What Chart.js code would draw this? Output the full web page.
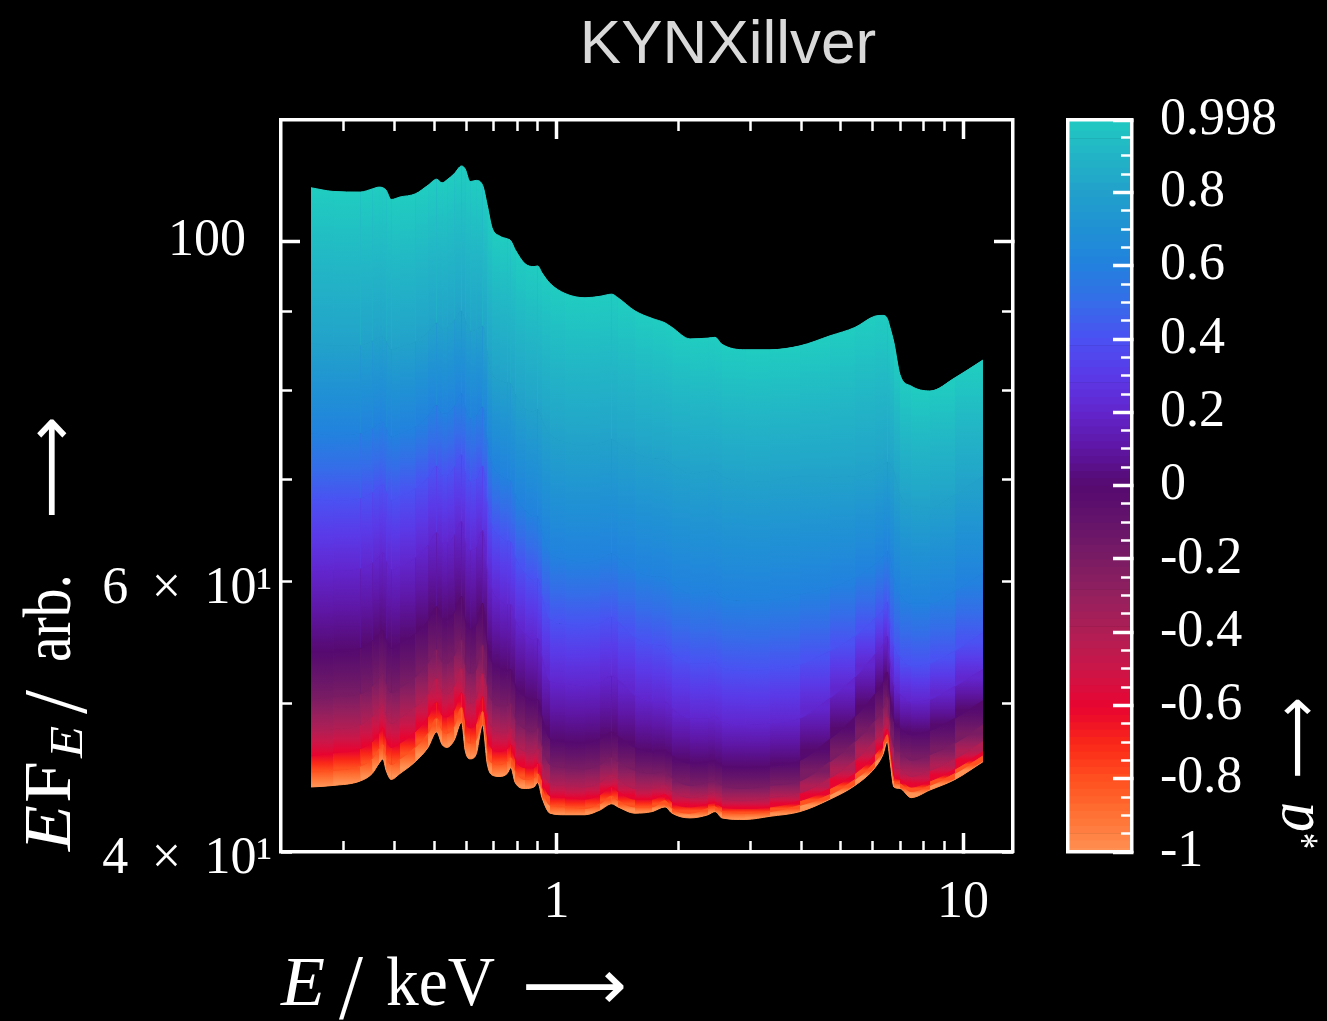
<!DOCTYPE html>
<html>
<head>
<meta charset="utf-8">
<title>KYNXillver</title>
<script src="https://cdn.jsdelivr.net/npm/chart.js@4.4.1/dist/chart.umd.min.js"></script>
<style>
  html, body { margin: 0; padding: 0; background: #000; }
  #wrap { position: relative; width: 1327px; height: 1021px; }
  #wrap canvas { position: absolute; left: 0; top: 0; }
</style>
</head>
<body>
<div id="wrap">
  <canvas id="spectra" width="1327" height="1021"></canvas>
  <canvas id="colorbar" width="1327" height="1021"></canvas>
</div>
<script>
// photon energy grid, keV
const energyKeV = [
  0.249, 0.282, 0.329, 0.352, 0.366, 0.374, 0.381, 0.392, 0.412, 0.449,
  0.483, 0.507, 0.523, 0.538, 0.560, 0.584, 0.596, 0.613, 0.634, 0.658,
  0.675, 0.694, 0.726, 0.756, 0.772, 0.791, 0.837, 0.880, 0.899, 0.921,
  0.964, 1.049, 1.175, 1.279, 1.367, 1.416, 1.560, 1.718, 1.849, 1.924,
  2.130, 2.359, 2.454, 2.553, 2.909, 3.350, 3.972, 4.708, 5.421, 6.072,
  6.354, 6.510, 6.611, 6.761, 6.995, 7.446, 8.290, 9.552, 11.19
];

// spin of each spectrum
const spinValues = [-1, -0.8, -0.6, -0.4, -0.2, 0, 0.2, 0.4, 0.6, 0.8, 0.998];

// E F_E (arb.) per spin
const fluxSpinNeg1 = [
  44.1, 44.2, 44.5, 45.0, 45.7, 46.0, 45.2, 44.6, 45.0, 45.8,
  46.8, 47.9, 47.0, 46.8, 47.3, 48.6, 46.6, 46.0, 46.3, 48.4,
  45.7, 44.9, 44.8, 45.0, 45.4, 44.4, 44.0, 44.1, 44.4, 43.4,
  42.4, 42.3, 42.3, 42.6, 43.0, 42.8, 42.4, 42.5, 42.8, 42.4,
  42.1, 42.3, 42.5, 42.1, 42.0, 42.2, 42.5, 43.3, 44.2, 45.4,
  46.3, 47.2, 45.9, 44.1, 44.0, 43.4, 43.9, 44.6, 45.8
];
const fluxSpinNeg08 = [
  45.1, 45.2, 45.5, 46.0, 46.7, 47.0, 46.2, 45.6, 46.0, 46.8,
  47.8, 48.9, 48.0, 47.8, 48.3, 49.7, 47.6, 47.1, 47.3, 49.4,
  46.6, 45.7, 45.6, 45.8, 46.1, 45.2, 44.6, 44.7, 45.0, 44.0,
  42.9, 42.8, 42.7, 43.0, 43.5, 43.2, 42.8, 42.8, 43.2, 42.7,
  42.4, 42.7, 42.8, 42.5, 42.4, 42.5, 42.9, 43.6, 44.6, 45.8,
  46.7, 47.7, 46.3, 44.5, 44.3, 43.8, 44.2, 45.0, 46.2
];
const fluxSpinNeg06 = [
  46.2, 46.4, 46.7, 47.2, 47.8, 48.2, 47.4, 46.8, 47.1, 47.9,
  49.0, 50.1, 49.1, 49.0, 49.5, 50.8, 48.8, 48.2, 48.5, 50.5,
  47.6, 46.7, 46.5, 46.7, 47.0, 46.0, 45.4, 45.4, 45.7, 44.6,
  43.5, 43.4, 43.3, 43.6, 44.1, 43.8, 43.3, 43.3, 43.6, 43.1,
  42.8, 43.0, 43.1, 42.8, 42.7, 42.8, 43.2, 44.0, 45.0, 46.3,
  47.2, 48.1, 46.6, 44.8, 44.6, 44.1, 44.5, 45.3, 46.5
];
const fluxSpinNeg04 = [
  48.0, 48.1, 48.4, 49.0, 49.6, 49.9, 49.1, 48.5, 48.9, 49.7,
  50.7, 51.9, 50.9, 50.7, 51.3, 52.7, 50.6, 50.0, 50.3, 52.3,
  49.3, 48.2, 47.9, 47.9, 48.2, 47.2, 46.5, 46.4, 46.7, 45.6,
  44.3, 44.2, 44.1, 44.4, 44.9, 44.6, 44.0, 44.0, 44.2, 43.8,
  43.4, 43.6, 43.7, 43.4, 43.2, 43.4, 43.7, 44.7, 45.9, 47.3,
  48.1, 49.0, 47.4, 45.6, 45.3, 44.8, 45.2, 46.0, 47.2
];
const fluxSpinNeg02 = [
  50.3, 50.5, 50.7, 51.3, 51.9, 52.3, 51.5, 50.8, 51.2, 52.0,
  53.1, 54.2, 53.2, 53.1, 53.7, 55.0, 53.0, 52.3, 52.6, 54.6,
  51.4, 50.2, 49.8, 49.8, 50.0, 48.9, 48.1, 47.9, 48.2, 46.9,
  45.6, 45.4, 45.3, 45.6, 46.1, 45.8, 45.2, 45.0, 45.1, 44.7,
  44.2, 44.4, 44.5, 44.2, 44.0, 44.2, 44.5, 45.8, 47.2, 48.7,
  49.6, 50.5, 48.7, 46.8, 46.5, 45.9, 46.3, 47.1, 48.4
];
const fluxSpin0 = [
  54.0, 54.0, 54.3, 54.9, 55.5, 55.8, 55.0, 54.3, 54.7, 55.5,
  56.6, 57.8, 56.8, 56.7, 57.3, 58.7, 56.7, 55.9, 56.2, 58.1,
  54.8, 53.2, 52.7, 52.5, 52.6, 51.4, 50.5, 50.2, 50.3, 49.0,
  47.4, 47.2, 47.1, 47.4, 47.9, 47.6, 46.8, 46.5, 46.6, 46.2,
  45.7, 45.8, 45.9, 45.5, 45.4, 45.5, 45.9, 47.4, 49.0, 50.7,
  51.6, 52.4, 50.6, 48.7, 48.2, 47.7, 48.0, 48.9, 50.2
];
const fluxSpin02 = [
  60.9, 61.0, 61.2, 61.7, 62.3, 62.7, 61.9, 61.1, 61.4, 62.2,
  63.4, 64.6, 63.6, 63.6, 64.3, 65.7, 63.8, 62.9, 63.2, 64.8,
  61.2, 59.3, 58.4, 58.0, 58.0, 56.7, 55.5, 55.0, 55.1, 53.6,
  51.7, 51.5, 51.3, 51.6, 52.1, 51.8, 50.6, 50.1, 50.1, 49.6,
  48.9, 48.9, 49.0, 48.6, 48.4, 48.5, 48.9, 50.4, 52.0, 53.8,
  54.6, 55.3, 53.3, 51.4, 50.7, 50.1, 50.3, 51.3, 52.6
];
const fluxSpin04 = [
  67.9, 67.8, 68.0, 68.6, 69.2, 69.4, 68.7, 67.8, 68.2, 69.0,
  70.2, 71.4, 70.4, 70.4, 71.2, 72.6, 70.8, 69.8, 70.0, 71.4,
  67.7, 65.3, 64.3, 63.8, 63.7, 62.3, 60.8, 60.2, 60.3, 58.7,
  56.7, 56.3, 56.1, 56.4, 56.9, 56.5, 55.2, 54.6, 54.5, 53.9,
  53.1, 53.1, 53.2, 52.7, 52.5, 52.6, 53.0, 54.1, 55.3, 56.8,
  57.5, 58.2, 56.5, 54.6, 53.6, 52.9, 53.1, 54.1, 55.6
];
const fluxSpin06 = [
  75.0, 74.8, 75.0, 75.5, 76.1, 76.3, 75.6, 74.6, 75.0, 75.7,
  77.0, 78.2, 77.2, 77.3, 78.1, 79.6, 78.0, 76.7, 77.0, 78.0,
  74.3, 71.7, 70.5, 70.0, 69.8, 68.4, 66.8, 66.2, 66.2, 64.6,
  62.6, 62.1, 61.8, 62.1, 62.6, 62.2, 61.0, 60.5, 60.4, 59.8,
  59.0, 59.1, 59.2, 58.6, 58.3, 58.4, 58.9, 59.5, 60.4, 61.6,
  62.3, 62.8, 62.3, 60.3, 58.9, 58.1, 58.1, 59.2, 60.8
];
const fluxSpin08 = [
  85.8, 85.5, 85.6, 86.1, 86.6, 86.7, 86.1, 85.0, 85.4, 86.0,
  87.3, 88.5, 87.7, 87.9, 88.8, 90.1, 88.9, 87.4, 87.6, 88.1,
  84.8, 82.1, 81.2, 80.9, 80.8, 79.5, 77.8, 77.5, 77.7, 76.5,
  74.9, 74.0, 73.6, 73.9, 74.3, 73.9, 72.8, 72.2, 72.1, 71.6,
  70.6, 70.8, 70.9, 70.3, 69.7, 69.8, 70.3, 70.2, 70.3, 71.0,
  71.5, 71.8, 71.6, 70.8, 68.4, 67.3, 67.1, 68.4, 70.3
];
const fluxSpin0998 = [
  108.4, 107.8, 107.7, 108.2, 108.5, 108.4, 108.0, 106.5, 106.9, 107.4,
  108.8, 109.8, 109.2, 109.7, 110.7, 112.0, 111.5, 109.4, 109.6, 108.8,
  105.7, 102.1, 100.8, 100.4, 100.1, 98.8, 96.7, 96.3, 96.4, 95.4,
  93.9, 92.5, 91.9, 92.1, 92.4, 91.9, 90.1, 89.1, 88.5, 87.9,
  86.4, 86.5, 86.6, 85.7, 85.0, 85.0, 85.5, 86.8, 87.9, 89.4,
  89.5, 89.1, 87.9, 85.9, 81.9, 80.5, 79.9, 81.5, 83.7
];

const spinCurves = [
  fluxSpinNeg1, fluxSpinNeg08, fluxSpinNeg06, fluxSpinNeg04, fluxSpinNeg02,
  fluxSpin0, fluxSpin02, fluxSpin04, fluxSpin06, fluxSpin08, fluxSpin0998
];

// axis ticks
const xMajorTicks = [1, 10];
const xMinorTicks = [0.3, 0.4, 0.5, 0.6, 0.7, 0.8, 0.9, 2, 3, 4, 5, 6, 7, 8, 9];
const xTickLabels = { 1: '1', 10: '10' };
const yMajorTicks = [100];
const yMinorTicks = [40, 50, 60, 70, 80, 90];
const yLabelTicks = [40, 60, 100];
const yTickLabels = {
  40: ['', '4\u2009 \u00D7 \u200910¹'],
  60: ['', '6\u2009 \u00D7 \u200910¹'],
  100: '100  '
};
const cbMajorTicks = [-1, -0.8, -0.6, -0.4, -0.2, 0, 0.2, 0.4, 0.6, 0.8, 0.998];
const cbTickLabels = {
  '-1': '-1', '-0.8': '-0.8', '-0.6': '-0.6', '-0.4': '-0.4', '-0.2': '-0.2',
  '0': '0', '0.2': '0.2', '0.4': '0.4', '0.6': '0.6', '0.8': '0.8', '0.998': '0.998'
};
const cbMinorTicks = [
  -0.95, -0.9, -0.85, -0.75, -0.7, -0.65, -0.55, -0.5, -0.45, -0.35, -0.3, -0.25,
  -0.15, -0.1, -0.05, 0.05, 0.1, 0.15, 0.25, 0.3, 0.35, 0.45, 0.5, 0.55,
  0.65, 0.7, 0.75, 0.85, 0.9, 0.95
];

const X_MIN = 0.21, X_MAX = 13.27, Y_MIN = 40, Y_MAX = 120;
const WHITE = '#ffffff';
const SERIF = '"Liberation Serif", "DejaVu Serif", serif';
const tickFont = { family: SERIF, size: 52 };

// colour map for the spin parameter
const cmapStops = [
  [-1.0, [255, 147, 86]], [-0.9, [255, 116, 54]], [-0.8, [255, 82, 32]],
  [-0.7, [250, 40, 24]], [-0.6, [232, 4, 48]], [-0.5, [204, 22, 72]],
  [-0.4, [176, 30, 84]], [-0.3, [148, 32, 94]], [-0.2, [122, 28, 100]],
  [-0.1, [100, 20, 106]], [0.0, [86, 10, 112]], [0.1, [94, 22, 164]],
  [0.2, [98, 38, 206]], [0.3, [90, 58, 232]], [0.4, [74, 82, 242]],
  [0.5, [52, 110, 232]], [0.6, [34, 130, 222]], [0.7, [32, 146, 212]],
  [0.8, [34, 162, 202]], [0.9, [34, 182, 198]], [1.0, [32, 204, 192]]
];

function spinColor(s) {
  s = Math.max(-1, Math.min(1, s));
  let k = 0;
  while (k < cmapStops.length - 2 && s > cmapStops[k + 1][0]) k++;
  const [s0, c0] = cmapStops[k];
  const [s1, c1] = cmapStops[k + 1];
  const t = (s - s0) / (s1 - s0);
  const c = c0.map((v, j) => Math.round(v + (c1[j] - v) * t));
  return `rgb(${c[0]},${c[1]},${c[2]})`;
}

function toPoints(flux) {
  return energyKeV.map((e, k) => ({ x: e, y: flux[k] }));
}

// vertical gradient for the band between spectrum i-1 and spectrum i
function bandFill(sc, i) {
  const s0 = spinValues[i - 1], s1 = spinValues[i];
  const chart = sc.chart;
  const lower = chart.getDatasetMeta(i - 1).data;
  const q0 = lower[sc.p0DataIndex], q1 = lower[sc.p1DataIndex];
  if (!q0 || !q1 || !sc.p0 || !sc.p1) return spinColor((s0 + s1) / 2);
  const yBot = (q0.y + q1.y) / 2;
  const yTop = (sc.p0.y + sc.p1.y) / 2;
  if (!(yBot - yTop > 0.5)) return spinColor((s0 + s1) / 2);
  const g = chart.ctx.createLinearGradient(0, yBot, 0, yTop);
  for (let k = 0; k <= 4; k++) {
    g.addColorStop(k / 4, spinColor(s0 + (s1 - s0) * k / 4));
  }
  return g;
}

const curveDatasets = spinValues.map((s, i) => ({
  label: 'a* = ' + s,
  data: toPoints(spinCurves[i]),
  xAxisID: 'x',
  yAxisID: 'y',
  borderColor: spinColor(s),
  borderWidth: 1,
  pointRadius: 0,
  cubicInterpolationMode: 'monotone',
  fill: i === 0 ? false : '-1',
  backgroundColor: i === 0 ? 'transparent' : spinColor((s + spinValues[i - 1]) / 2),
  segment: i === 0 ? {} : { backgroundColor: sc => bandFill(sc, i) }
}));

// flat fills underneath the gradient bands, so the joins between segments do not show
const UNDER = curveDatasets.length;
const underlayDatasets = spinValues.map((s, i) => ({
  label: 'band ' + s,
  data: toPoints(spinCurves[i]),
  xAxisID: 'x',
  yAxisID: 'y',
  borderWidth: 0,
  pointRadius: 0,
  cubicInterpolationMode: 'monotone',
  fill: i === 0 ? false : UNDER + i - 1,
  backgroundColor: i === 0 ? 'transparent' : spinColor((s + spinValues[i - 1]) / 2)
}));

function tickAxis(o) {
  return {
    type: o.type,
    axis: o.axis,
    position: o.position,
    min: o.min,
    max: o.max,
    bounds: 'data',
    offset: false,
    weight: 0,
    afterBuildTicks: scale => { scale.ticks = o.ticks.map(v => ({ value: v })); },
    afterFit: scale => { if (o.axis === 'x') scale.height = 0; else scale.width = 0; },
    grid: {
      display: true, drawOnChartArea: false, drawTicks: true, offset: false, z: 1,
      tickLength: o.tickLength, tickWidth: o.tickWidth, tickColor: WHITE, color: WHITE
    },
    border: { display: !!o.border, color: WHITE, width: 3.5, z: 1 },
    ticks: { display: true, autoSkip: false, callback: () => '' }
  };
}

// scale that carries the tick labels, sized to hold them
function labelAxis(o) {
  return {
    type: o.type,
    axis: o.axis,
    position: o.position,
    min: o.min,
    max: o.max,
    bounds: 'data',
    offset: false,
    weight: 1,
    afterBuildTicks: scale => { scale.ticks = o.ticks.map(v => ({ value: v })); },
    afterFit: scale => { if (o.axis === 'x') scale.height = o.size; else scale.width = o.size; },
    grid: {
      display: o.tickLength !== undefined, drawOnChartArea: false, offset: false, z: 1,
      drawTicks: o.tickLength !== undefined, tickLength: o.tickLength || 0,
      tickWidth: o.tickWidth || 1, tickColor: WHITE, color: WHITE
    },
    border: { display: !!o.border, color: WHITE, width: 3.5, z: 1 },
    ticks: {
      display: true, autoSkip: false, maxRotation: 0, minRotation: 0, z: 1,
      color: WHITE, font: o.font || tickFont, padding: o.padding,
      callback: v => (o.labels[v] !== undefined ? o.labels[v] : '')
    }
  };
}

function frameAxis(axis, position, min, max) {
  return {
    type: 'linear', axis, position, min, max, bounds: 'data', offset: false,
    afterFit: scale => { if (axis === 'x') scale.height = 0; else scale.width = 0; },
    grid: { display: false, drawTicks: false, offset: false },
    ticks: { display: false },
    border: { display: true, color: WHITE, width: 3.5, z: 1 }
  };
}

function putText(ctx, text, font, x, y, width) {
  ctx.save();
  ctx.font = font;
  const w = ctx.measureText(text).width;
  ctx.translate(x, y);
  if (width) ctx.scale(width / w, 1);
  ctx.fillText(text, 0, 0);
  ctx.restore();
}

function putTextUp(ctx, text, font, baseX, startY, length) {
  ctx.save();
  ctx.translate(baseX, startY);
  ctx.rotate(-Math.PI / 2);
  putText(ctx, text, font, 0, 0, length);
  ctx.restore();
}

const figureText = {
  id: 'figureText',
  afterDraw(chart) {
    const ctx = chart.ctx;
    ctx.save();
    ctx.textBaseline = 'alphabetic';

    ctx.fillStyle = '#d9d9d9';
    ctx.font = '62px "Liberation Sans", Arial, sans-serif';
    ctx.textAlign = 'center';
    ctx.fillText('KYNXillver', 728, 63);
    ctx.textAlign = 'left';

    ctx.fillStyle = WHITE;
    // E / keV -->
    putText(ctx, 'E', 'italic 70px ' + SERIF, 281, 1005, 44);
    putText(ctx, '/', '94px ' + SERIF, 339, 1018, 24);
    putText(ctx, 'keV', '70px ' + SERIF, 386, 1005, 109);
    putText(ctx, '\u27F6', '70px "DejaVu Sans"', 522, 1009, 105);

    // E F_E / arb. -->
    putTextUp(ctx, 'E', 'italic 68px ' + SERIF, 70, 851, 46);
    putTextUp(ctx, 'F', '68px ' + SERIF, 70, 803, 42);
    putTextUp(ctx, 'E', 'italic 46px ' + SERIF, 82, 758, 32);
    putTextUp(ctx, '/', '92px ' + SERIF, 86, 714, 24);
    putTextUp(ctx, 'arb.', '68px ' + SERIF, 70, 662, 88);
    putTextUp(ctx, '\u27F6', '68px "DejaVu Sans"', 73, 519, 103);

    // spin label
    putTextUp(ctx, '\u27F6', '62px "DejaVu Sans"', 1317, 779, 82);
    putTextUp(ctx, 'a', 'italic 66px ' + SERIF, 1313, 832, 30);
    putTextUp(ctx, '*', '44px ' + SERIF, 1330, 849, 16);
    ctx.restore();
  }
};

const yLabelFont = sc => ({
  family: SERIF, size: 52,
  lineHeight: sc.tick && sc.tick.value === 100 ? 1.2 : 0.27
});

new Chart(document.getElementById('spectra'), {
  type: 'line',
  data: { datasets: curveDatasets.concat(underlayDatasets) },
  options: {
    responsive: false,
    animation: false,
    events: [],
    layout: { padding: { left: 0, right: 314, top: 120, bottom: 0 } },
    plugins: { legend: { display: false }, tooltip: { enabled: false }, title: { display: false } },
    scales: {
      x: tickAxis({ type: 'logarithmic', axis: 'x', position: 'bottom', min: X_MIN, max: X_MAX,
        ticks: xMajorTicks, tickLength: -19, tickWidth: 3.5, border: true }),
      xMinor: tickAxis({ type: 'logarithmic', axis: 'x', position: 'bottom', min: X_MIN, max: X_MAX,
        ticks: xMinorTicks, tickLength: -11, tickWidth: 2.5 }),
      xLabels: labelAxis({ type: 'logarithmic', axis: 'x', position: 'bottom', min: X_MIN, max: X_MAX,
        ticks: xMajorTicks, labels: xTickLabels, size: 169, padding: 20 }),
      xTop: tickAxis({ type: 'logarithmic', axis: 'x', position: 'top', min: X_MIN, max: X_MAX,
        ticks: xMajorTicks, tickLength: -19, tickWidth: 3.5, border: true }),
      xTopMinor: tickAxis({ type: 'logarithmic', axis: 'x', position: 'top', min: X_MIN, max: X_MAX,
        ticks: xMinorTicks, tickLength: -11, tickWidth: 2.5 }),
      y: tickAxis({ type: 'logarithmic', axis: 'y', position: 'left', min: Y_MIN, max: Y_MAX,
        ticks: yMajorTicks, tickLength: -19, tickWidth: 3.5, border: true }),
      yMinor: tickAxis({ type: 'logarithmic', axis: 'y', position: 'left', min: Y_MIN, max: Y_MAX,
        ticks: yMinorTicks, tickLength: -11, tickWidth: 2.5 }),
      yLabels: labelAxis({ type: 'logarithmic', axis: 'y', position: 'left', min: Y_MIN, max: Y_MAX,
        ticks: yLabelTicks, labels: yTickLabels, size: 281, padding: 9, font: yLabelFont }),
      yRight: tickAxis({ type: 'logarithmic', axis: 'y', position: 'right', min: Y_MIN, max: Y_MAX,
        ticks: yMajorTicks, tickLength: -19, tickWidth: 3.5, border: true }),
      yRightMinor: tickAxis({ type: 'logarithmic', axis: 'y', position: 'right', min: Y_MIN, max: Y_MAX,
        ticks: yMinorTicks, tickLength: -11, tickWidth: 2.5 })
    }
  },
  plugins: [figureText]
});

// colour bar: one thin horizontal bar per spin step
const cbSteps = 100;
const cbSlices = Array.from({ length: cbSteps }, (_, k) => 0.998 - (k + 0.5) * (1.998 / cbSteps));

new Chart(document.getElementById('colorbar'), {
  type: 'bar',
  data: {
    labels: cbSlices.map((_, k) => String(k)),
    datasets: [{
      data: cbSlices.map(() => 1),
      backgroundColor: cbSlices.map(s => spinColor(s)),
      borderWidth: 0,
      barPercentage: 1,
      categoryPercentage: 1,
      xAxisID: 'span',
      yAxisID: 'slice'
    }]
  },
  options: {
    indexAxis: 'y',
    responsive: false,
    animation: false,
    events: [],
    layout: { padding: { left: 1068, right: 0, top: 120, bottom: 169 } },
    plugins: { legend: { display: false }, tooltip: { enabled: false } },
    scales: {
      slice: { type: 'category', axis: 'y', display: false, offset: false },
      span: frameAxis('x', 'bottom', 0, 1),
      spanTop: frameAxis('x', 'top', 0, 1),
      cbLeft: frameAxis('y', 'left', -1, 0.998),
      cbMinor: tickAxis({ type: 'linear', axis: 'y', position: 'right', min: -1, max: 0.998,
        ticks: cbMinorTicks, tickLength: -11, tickWidth: 2.5 }),
      cb: labelAxis({ type: 'linear', axis: 'y', position: 'right', min: -1, max: 0.998,
        ticks: cbMajorTicks, labels: cbTickLabels, size: 195, padding: 47,
        tickLength: -19, tickWidth: 3.5, border: true })
    }
  }
});
</script>
</body>
</html>
